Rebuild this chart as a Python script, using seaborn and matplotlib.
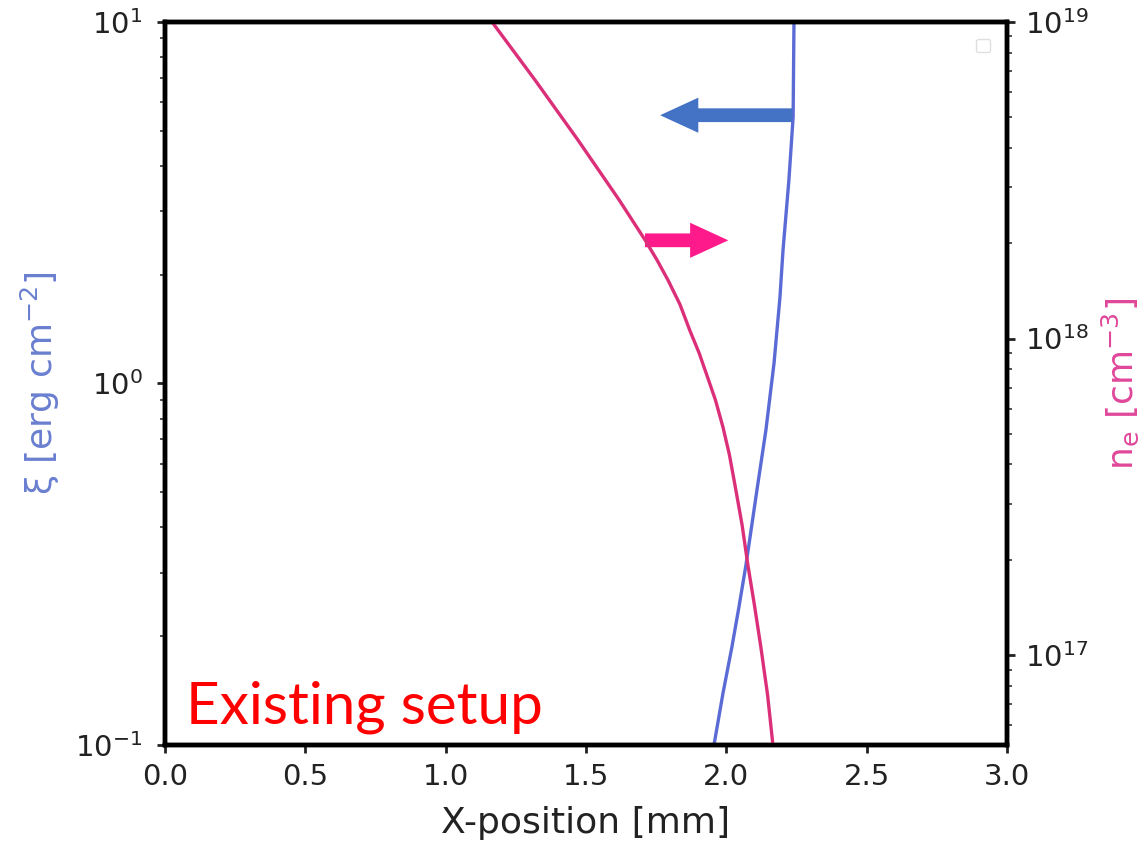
import numpy as np
import pandas as pd
import matplotlib
matplotlib.use("Agg")
import matplotlib.pyplot as plt
import seaborn as sns

# --- data ---
xi_x = [2.241, 2.238, 2.223, 2.202, 2.191, 2.170, 2.141, 2.109, 2.070, 2.045, 2.020, 1.988, 1.956]
xi_vals = [10.0, 5.46, 3.66, 2.34, 1.73, 1.14, 0.743, 0.507, 0.315, 0.241, 0.187, 0.139, 0.1]

ne_x = [1.165, 1.318, 1.471, 1.618, 1.710, 1.753, 1.792, 1.835, 1.870, 1.903, 1.933,
        1.961, 1.988, 2.011, 2.034, 2.056, 2.077, 2.100, 2.123, 2.147, 2.166]
ne_vals = [1.0e19, 6.56e18, 4.24e18, 2.74e18, 2.05e18, 1.77e18, 1.53e18, 1.28e18, 1.06e18,
           9.0e17, 7.55e17, 6.40e17, 5.25e17, 4.29e17, 3.32e17, 2.58e17, 1.92e17, 1.44e17,
           1.06e17, 7.48e16, 5.2e16]

x_ticks = [0.0, 0.5, 1.0, 1.5, 2.0, 2.5, 3.0]

xi_df = pd.DataFrame({"x": xi_x, "xi": xi_vals})
ne_df = pd.DataFrame({"x": ne_x, "ne": ne_vals})

sns.set_style("ticks")
plt.rcParams["font.family"] = ["DejaVu Sans"]

fig = plt.figure(figsize=(11.43, 8.44), dpi=100)
ax = fig.add_axes([0.1444, 0.1173, 0.7366, 0.8567])
ax2 = ax.twinx()

blue = "#5b6bd6"
pink = "#dc2f7a"

sns.lineplot(data=xi_df, x="x", y="xi", ax=ax, sort=False, color=blue, lw=2.4)
sns.lineplot(data=ne_df, x="x", y="ne", ax=ax2, sort=False, color=pink, lw=2.4)

ax.set_yscale("log")
ax2.set_yscale("log")
ax.set_xlim(0, 3)
ax.set_ylim(0.1, 10)
ax2.set_ylim(10 ** 16.716, 1e19)
ax.set_xticks(x_ticks)
ax.set_xticklabels([f"{v:.1f}" for v in x_ticks])

for a in (ax, ax2):
    for s in a.spines.values():
        s.set_linewidth(3.2)
        s.set_color("black")
    a.tick_params(which="major", length=6, width=2, labelsize=21, colors="#222222")
    a.tick_params(which="minor", length=3.5, width=1.2, colors="#333333")
ax.tick_params(axis="x", pad=7)
ax.tick_params(axis="y", pad=10)
ax2.tick_params(axis="y", pad=7)

ax.set_xlabel("X-position [mm]", fontsize=26, color="#222222", labelpad=11)
ax.set_ylabel("ξ [erg cm$^{-2}$]", fontsize=26, color="#6a7fd0", labelpad=10)
ax2.set_ylabel(r"n$_\mathrm{e}$ [cm$^{-3}$]", fontsize=26, color="#e0479a", labelpad=8)

# empty legend box (as in reference)
leg = ax2.legend(handles=[], loc="upper right", frameon=True, borderpad=0.5,
                 borderaxespad=1.2)
leg.get_frame().set_edgecolor("#d8d8d8")

# direction arrows
style = "simple,head_length=1.25,head_width=1.15,tail_width=0.45"
ax.annotate("", xy=(0.588, 0.871), xytext=(0.745, 0.871), xycoords="axes fraction",
            arrowprops=dict(arrowstyle=style, color="#4472c4", lw=0,
                            shrinkA=0, shrinkB=0, mutation_scale=22))
ax.annotate("", xy=(0.669, 0.698), xytext=(0.570, 0.698), xycoords="axes fraction",
            arrowprops=dict(arrowstyle=style, color="#ff1a8c", lw=0,
                            shrinkA=0, shrinkB=0, mutation_scale=22))

fig.text(186 / 1143, 1 - 723 / 844, "Existing setup", color="#ff0000",
         fontsize=42, family=["Lato", "DejaVu Sans"], ha="left", va="baseline")

fig.savefig("out.png", dpi=100)
